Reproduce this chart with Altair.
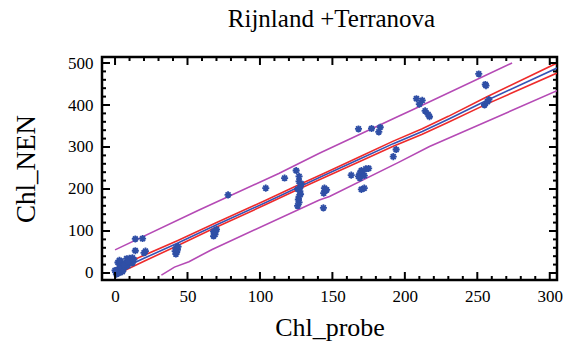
import altair as alt
import pandas as pd

TITLE = "Rijnland +Terranova"
X_TITLE = "Chl_probe"
Y_TITLE = "Chl_NEN"

# observed points (Chl_probe, Chl_NEN)
obs_x = [0.5, 1, 1.5, 2, 2.5, 3, 3, 4, 4.5, 5, 5.5, 6, 1, 2, 0, 3.5, 2, 3, 4, 7,
         8, 9, 10, 11, 12, 8, 10, 13, 6, 9, 12,
         14, 19, 14, 21, 20,
         42, 42.5, 43, 42, 43.5, 41.5,
         68, 69, 68.5, 69.5, 70, 68,
         78, 104, 117, 125, 127,
         126, 127, 126.5, 127, 128, 127.5, 126, 128, 128.5, 127,
         144, 145, 144.5, 146, 143.8,
         163, 168, 169, 170, 171, 173, 175, 169, 172, 170, 172,
         168, 177, 183, 182, 194, 192,
         208, 212, 210, 214, 217, 216,
         251, 255.5, 256, 258, 255, 257]
obs_y = [2, 5, 0, 8, 4, 1, 12, 6, 10, 3, 15, 9, -3, -1, 6, 18, 25, 30, 28, 16,
         22, 18, 26, 30, 24, 34, 35, 32, 20, 28, 36,
         81, 82, 53, 52, 48,
         45, 50, 55, 60, 63, 52,
         88, 92, 96, 100, 104, 99,
         186, 202, 226, 244, 230,
         160, 168, 175, 182, 188, 195, 200, 206, 212, 218,
         190, 196, 202, 198, 155,
         233, 230, 238, 244, 236, 248, 249, 226, 232, 199, 202,
         343, 344, 347, 336, 294, 277,
         415, 411, 402, 386, 372, 378,
         474, 449, 446, 413, 400, 408]

# regression fit and confidence band
fit_x = [0, 20, 43, 69, 104, 125, 144, 170, 192, 212, 230, 256, 305]
fit_y = [3, 35, 71, 113, 168, 202, 232, 273, 308, 337, 366, 410, 488]
ci_upper = [11, 42, 77, 118.5, 173, 207, 237, 278.5, 314, 343.5, 373, 418.5, 500]
ci_lower = [-5, 28, 65, 107.5, 163, 197, 227, 267.5, 302, 330.5, 359, 401.5, 476]

# prediction band
pi_upper_x = [0, 58, 113, 141, 196, 205, 274]
pi_upper_y = [55, 150, 237, 285, 374, 388, 500]
pi_lower_x = [32, 41, 51, 67, 141, 148, 196, 217, 305]
pi_lower_y = [-5, 14, 27, 56, 174, 182, 264, 301, 434]

# ticks
x_major = [0, 50, 100, 150, 200, 250, 300]
x_minor = [v for v in range(0, 301, 10) if v % 50 != 0]
y_major = [0, 100, 200, 300, 400, 500]
y_minor = [v for v in range(0, 501, 20) if v % 100 != 0]

W, H = 455, 223
FONT = "Liberation Serif"

xs = alt.Scale(domain=[-9, 305], nice=False, zero=False)
ys = alt.Scale(domain=[-16.7, 514.3], nice=False, zero=False)

x_axis = alt.Axis(values=x_major, ticks=False, domain=False, grid=False,
                  labelFont=FONT, labelFontSize=17, labelColor="black", labelPadding=8,
                  titleFont=FONT, titleFontSize=26, titleFontWeight="normal",
                  titleColor="black", titleY=55, titleBaseline="alphabetic")
y_axis = alt.Axis(values=y_major, ticks=False, domain=False, grid=False,
                  labelFont=FONT, labelFontSize=17, labelColor="black", labelPadding=9,
                  titleFont=FONT, titleFontSize=27, titleFontWeight="normal",
                  titleColor="black", titleX=-68, titleBaseline="alphabetic")


def X(field):
    return alt.X(field, scale=xs, axis=x_axis, title=X_TITLE)


def Y(field):
    return alt.Y(field, scale=ys, axis=y_axis, title=Y_TITLE)


pts = pd.DataFrame({"x": obs_x, "y": obs_y})

rows = []
for s, xx, yy in [("fit", fit_x, fit_y), ("ciu", fit_x, ci_upper), ("cil", fit_x, ci_lower),
                  ("piu", pi_upper_x, pi_upper_y), ("pil", pi_lower_x, pi_lower_y)]:
    for a, b in zip(xx, yy):
        rows.append({"series": s, "x": a, "y": b})
lines = pd.DataFrame(rows)

line_color = alt.Color("series:N", legend=None,
                       scale=alt.Scale(domain=["fit", "ciu", "cil", "piu", "pil"],
                                       range=["#3552B4", "#EE2B2B", "#EE2B2B", "#B54AB5", "#B54AB5"]))

line_layer = alt.Chart(lines).mark_line(strokeWidth=1.6, clip=True).encode(
    x=X("x:Q"), y=Y("y:Q"),
    color=line_color,
    detail="series:N",
    order="x:Q",
)

asterisk = "M-1,0L1,0M0,-1L0,1M-0.7,-0.7L0.7,0.7M-0.7,0.7L0.7,-0.7"
point_layer = alt.Chart(pts).mark_point(shape=asterisk, filled=False, size=50,
                                        strokeWidth=1.8, color="#2F4FA6", opacity=1).encode(
    x=X("x:Q"), y=Y("y:Q"),
)


def xticks(vals, length):
    df = pd.DataFrame({"x": vals})
    base = alt.Chart(df).mark_rule(color="black", strokeWidth=2)
    bottom = base.encode(x=X("x:Q"), y=alt.value(H), y2=alt.value(H - length))
    top = base.encode(x=X("x:Q"), y=alt.value(0), y2=alt.value(length))
    return [bottom, top]


def yticks(vals, length):
    df = pd.DataFrame({"y": vals})
    base = alt.Chart(df).mark_rule(color="black", strokeWidth=2)
    left = base.encode(y=Y("y:Q"), x=alt.value(0), x2=alt.value(length))
    right = base.encode(y=Y("y:Q"), x=alt.value(W), x2=alt.value(W - length))
    return [left, right]


tick_layers = xticks(x_major, 8) + xticks(x_minor, 4) + yticks(y_major, 8) + yticks(y_minor, 4)

chart = alt.layer(line_layer, point_layer, *tick_layers).properties(
    width=W, height=H,
    title=alt.Title(TITLE, font=FONT, fontSize=25, fontWeight="normal", color="black",
                    anchor="middle", baseline="alphabetic", offset=2, dx=2),
    autosize=alt.AutoSizeParams(type="none"),
    padding={"left": 102, "top": 57, "right": 6, "bottom": 65},
).configure(
    background="white", font=FONT,
    style={"guide-label": {"font": FONT, "fontSize": 17, "fill": "black"},
           "guide-title": {"font": FONT, "fill": "black"}},
).configure_view(stroke="black", strokeWidth=2.5).configure_axis(
    labelFont=FONT, labelFontSize=17, labelColor="black", labelFontWeight="normal",
    titleFont=FONT,
)

chart.save("out.html", embed_options={"renderer": "svg", "actions": False})
